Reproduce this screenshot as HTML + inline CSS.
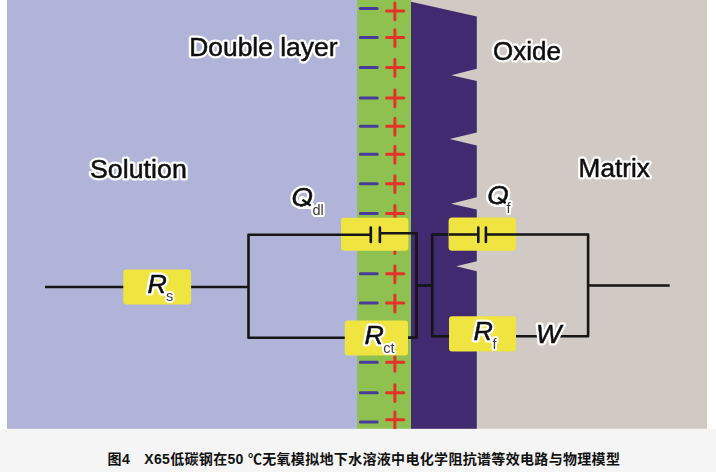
<!DOCTYPE html>
<html lang="zh"><head><meta charset="utf-8"><title>图4</title>
<style>
html,body{margin:0;padding:0;background:#fff;}
body{width:716px;height:472px;overflow:hidden;position:relative;font-family:"Liberation Sans","Noto Sans CJK SC",sans-serif;}
#fig{position:absolute;left:0;top:0;width:716px;height:429px;display:block;}
#cap{position:absolute;left:0;top:429px;width:716px;height:43px;background:#f5f5f5;}
#cap p{margin:0;position:absolute;left:107.6px;top:19.5px;font-size:14px;line-height:20px;font-weight:bold;color:#111;white-space:nowrap;letter-spacing:0.32px;}
.t{font-family:"Liberation Sans",sans-serif;font-size:25.7px;}
.i{font-family:"Liberation Sans",sans-serif;font-size:25.7px;font-style:italic;}
.s{font-family:"Liberation Sans",sans-serif;font-size:14.5px;}
.h{fill:#fff;stroke:#fff;stroke-width:5;stroke-linejoin:round;}
.t.f,.i.f{fill:#111;stroke:#111;stroke-width:0.5;}
.s.f{fill:#3a3a3a;}
.s.h{stroke-width:4;}
.w{stroke:#151515;stroke-width:2.6;fill:none;stroke-linecap:butt;stroke-linejoin:round;}
.mi{stroke:#4a3b9b;stroke-width:3;stroke-linecap:round;}
.pl{stroke:#e3322a;stroke-width:3;fill:none;stroke-linecap:round;}
.yb{fill:#efe441;}
</style></head><body>
<svg id="fig" width="716" height="429" viewBox="0 0 716 429">
<defs><filter id="bl" x="-5%" y="-5%" width="110%" height="110%"><feGaussianBlur stdDeviation="0.35"/></filter><filter id="sb" x="-2%" y="-2%" width="104%" height="104%"><feGaussianBlur stdDeviation="0.3"/></filter><clipPath id="qf0"><rect x="285.6" y="176" width="40" height="30.7"/></clipPath><clipPath id="qh0"><rect x="285.6" y="176" width="40" height="33.0"/></clipPath><clipPath id="qf1"><rect x="481.2" y="173.9" width="40" height="30.7"/></clipPath><clipPath id="qh1"><rect x="481.2" y="173.9" width="40" height="33.0"/></clipPath></defs>
<g filter="url(#sb)">
<rect x="7" y="-6" width="351" height="434.8" fill="#b0b4d8"/>
<rect x="357.2" y="-6" width="54" height="434.8" fill="#8ec14f"/>
<rect x="411" y="-6" width="296" height="434.8" fill="#d1c9c3"/>
<polygon fill="#422a6f" points="411,1.7 476.8,16.5 476.8,68.8 451.3,75.2 476.8,81 476.8,132.4 449.7,139 476.8,145.6 476.8,197.2 451,203.8 476.8,209.4 476.8,261.2 456.2,266.2 476.8,271.2 476.8,428.8 411,428.8"/>
<line x1="360.4" y1="8.4" x2="377.2" y2="8.4" class="mi"/>
<path d="M386.5 10.9H403.8M394.9 3.0V19.8" class="pl"/>
<line x1="360.4" y1="37.6" x2="377.2" y2="37.6" class="mi"/>
<path d="M386.5 37.6H403.8M394.9 29.7V46.5" class="pl"/>
<line x1="360.4" y1="67.4" x2="377.2" y2="67.4" class="mi"/>
<path d="M386.5 67.4H403.8M394.9 59.5V76.3" class="pl"/>
<line x1="360.4" y1="97.9" x2="377.2" y2="97.9" class="mi"/>
<path d="M386.5 97.9H403.8M394.9 90.0V106.8" class="pl"/>
<line x1="360.4" y1="126.2" x2="377.2" y2="126.2" class="mi"/>
<path d="M386.5 126.2H403.8M394.9 118.3V135.1" class="pl"/>
<line x1="360.4" y1="154.2" x2="377.2" y2="154.2" class="mi"/>
<path d="M386.5 154.2H403.8M394.9 146.3V163.1" class="pl"/>
<line x1="360.4" y1="183.7" x2="377.2" y2="183.7" class="mi"/>
<path d="M386.5 183.7H403.8M394.9 175.8V192.6" class="pl"/>
<line x1="360.4" y1="213.4" x2="377.2" y2="213.4" class="mi"/>
<path d="M386.5 213.4H403.8M394.9 205.5V222.3" class="pl"/>
<line x1="360.4" y1="244.6" x2="377.2" y2="244.6" class="mi"/>
<path d="M386.5 244.6H403.8M394.9 236.7V253.5" class="pl"/>
<line x1="360.4" y1="273.8" x2="377.2" y2="273.8" class="mi"/>
<path d="M386.5 273.8H403.8M394.9 265.9V282.7" class="pl"/>
<line x1="360.4" y1="303.0" x2="377.2" y2="303.0" class="mi"/>
<path d="M386.5 303.0H403.8M394.9 295.1V311.9" class="pl"/>
<line x1="360.4" y1="332.5" x2="377.2" y2="332.5" class="mi"/>
<path d="M386.5 332.5H403.8M394.9 324.6V341.4" class="pl"/>
<line x1="360.4" y1="362.2" x2="377.2" y2="362.2" class="mi"/>
<path d="M386.5 362.2H403.8M394.9 354.3V371.1" class="pl"/>
<line x1="360.4" y1="392.7" x2="377.2" y2="392.7" class="mi"/>
<path d="M386.5 392.7H403.8M394.9 384.8V401.6" class="pl"/>
<line x1="360.4" y1="422.0" x2="377.2" y2="422.0" class="mi"/>
<path d="M386.5 419.8H403.8M394.9 411.9V428.7" class="pl"/>
<!-- wires -->
<path class="w" d="M45 287H124M190 287H248.5M370.8 234.7H248.5V337.8H346M379.9 233.3H416.5V337.6H407M416.5 285.5H432.2M478.3 234.5H432.2V336.2H450M485.9 234.5H588.1V336.2H515M588.1 285.5H669.7"/>
<!-- boxes -->
<rect class="yb" x="341" y="217.8" width="67.4" height="33" rx="3"/>
<rect class="yb" x="448.6" y="217.6" width="67.4" height="33.1" rx="3.5"/>
<rect class="yb" x="123.3" y="269.4" width="67.8" height="35" rx="3"/>
<rect class="yb" x="344.8" y="320.6" width="63.2" height="34.8" rx="3"/>
<rect class="yb" x="449" y="316.3" width="67" height="35.2" rx="3"/>
<!-- cap wires over boxes -->
<path class="w" d="M341 234.7H370.8M379.9 233.3H409M449 234.5H478.3M485.9 234.5H516"/>
<path class="w" style="stroke-linecap:round" d="M370.8 227.6V242M379.9 227.6V242M478.3 227.6V242M485.9 227.6V242"/>
</g>
<!-- labels -->
<g filter="url(#bl)">
<text x="189.2" y="56.3" class="t h" textLength="148.32" lengthAdjust="spacingAndGlyphs">Double layer</text><text x="189.2" y="56.3" class="t f" textLength="148.32" lengthAdjust="spacingAndGlyphs">Double layer</text>
<text x="493.1" y="60.4" class="t h" textLength="67.92" lengthAdjust="spacingAndGlyphs">Oxide</text><text x="493.1" y="60.4" class="t f" textLength="67.92" lengthAdjust="spacingAndGlyphs">Oxide</text>
<text x="90" y="177.9" class="t h" textLength="96.79" lengthAdjust="spacingAndGlyphs">Solution</text><text x="90" y="177.9" class="t f" textLength="96.79" lengthAdjust="spacingAndGlyphs">Solution</text>
<text x="578.6" y="176.7" class="t h" textLength="71.20" lengthAdjust="spacingAndGlyphs">Matrix</text><text x="578.6" y="176.7" class="t f" textLength="71.20" lengthAdjust="spacingAndGlyphs">Matrix</text>
<text x="291.6" y="206" class="i h" style="font-size:26.5px" clip-path="url(#qh0)" textLength="21.44" lengthAdjust="spacingAndGlyphs">Q</text><line x1="302.5" y1="199.7" x2="310.6" y2="205.6" stroke="#fff" stroke-width="7.4" stroke-linecap="round"/><text x="291.6" y="206" class="i f" style="font-size:26.5px" clip-path="url(#qf0)" textLength="21.44" lengthAdjust="spacingAndGlyphs">Q</text><line x1="302.5" y1="199.7" x2="310.6" y2="205.6" stroke="#111" stroke-width="2.4"/>
<text x="312.5" y="214.5" class="s h" textLength="11.30" lengthAdjust="spacingAndGlyphs">dl</text><text x="312.5" y="214.5" class="s f" textLength="11.30" lengthAdjust="spacingAndGlyphs">dl</text>
<text x="487.2" y="203.9" class="i h" style="font-size:26.5px" clip-path="url(#qh1)" textLength="21.44" lengthAdjust="spacingAndGlyphs">Q</text><line x1="498.1" y1="197.6" x2="506.2" y2="203.5" stroke="#fff" stroke-width="7.4" stroke-linecap="round"/><text x="487.2" y="203.9" class="i f" style="font-size:26.5px" clip-path="url(#qf1)" textLength="21.44" lengthAdjust="spacingAndGlyphs">Q</text><line x1="498.1" y1="197.6" x2="506.2" y2="203.5" stroke="#111" stroke-width="2.4"/>
<text x="506.5" y="212.5" class="s h" textLength="4.03" lengthAdjust="spacingAndGlyphs">f</text><text x="506.5" y="212.5" class="s f" textLength="4.03" lengthAdjust="spacingAndGlyphs">f</text>
<text x="147.5" y="293.4" class="i h" textLength="19.34" lengthAdjust="spacingAndGlyphs">R</text><text x="147.5" y="293.4" class="i f" textLength="19.34" lengthAdjust="spacingAndGlyphs">R</text>
<text x="166" y="301.4" class="s h" textLength="7.25" lengthAdjust="spacingAndGlyphs">s</text><text x="166" y="301.4" class="s f" textLength="7.25" lengthAdjust="spacingAndGlyphs">s</text>
<text x="364.4" y="344.3" class="i h" textLength="19.34" lengthAdjust="spacingAndGlyphs">R</text><text x="364.4" y="344.3" class="i f" textLength="19.34" lengthAdjust="spacingAndGlyphs">R</text>
<text x="383.2" y="352.5" class="s h" textLength="11.28" lengthAdjust="spacingAndGlyphs">ct</text><text x="383.2" y="352.5" class="s f" textLength="11.28" lengthAdjust="spacingAndGlyphs">ct</text>
<text x="473.5" y="340.3" class="i h" textLength="19.34" lengthAdjust="spacingAndGlyphs">R</text><text x="473.5" y="340.3" class="i f" textLength="19.34" lengthAdjust="spacingAndGlyphs">R</text>
<text x="492.4" y="349" class="s h" textLength="4.03" lengthAdjust="spacingAndGlyphs">f</text><text x="492.4" y="349" class="s f" textLength="4.03" lengthAdjust="spacingAndGlyphs">f</text>
<text x="536" y="343.2" class="i h" textLength="25.29" lengthAdjust="spacingAndGlyphs">W</text><text x="536" y="343.2" class="i f" textLength="25.29" lengthAdjust="spacingAndGlyphs">W</text>
</g>
</svg>
<div id="cap"><p>图4&#8195;X65低碳钢在50 ℃无氧模拟地下水溶液中电化学阻抗谱等效电路与物理模型</p></div>
</body></html>
